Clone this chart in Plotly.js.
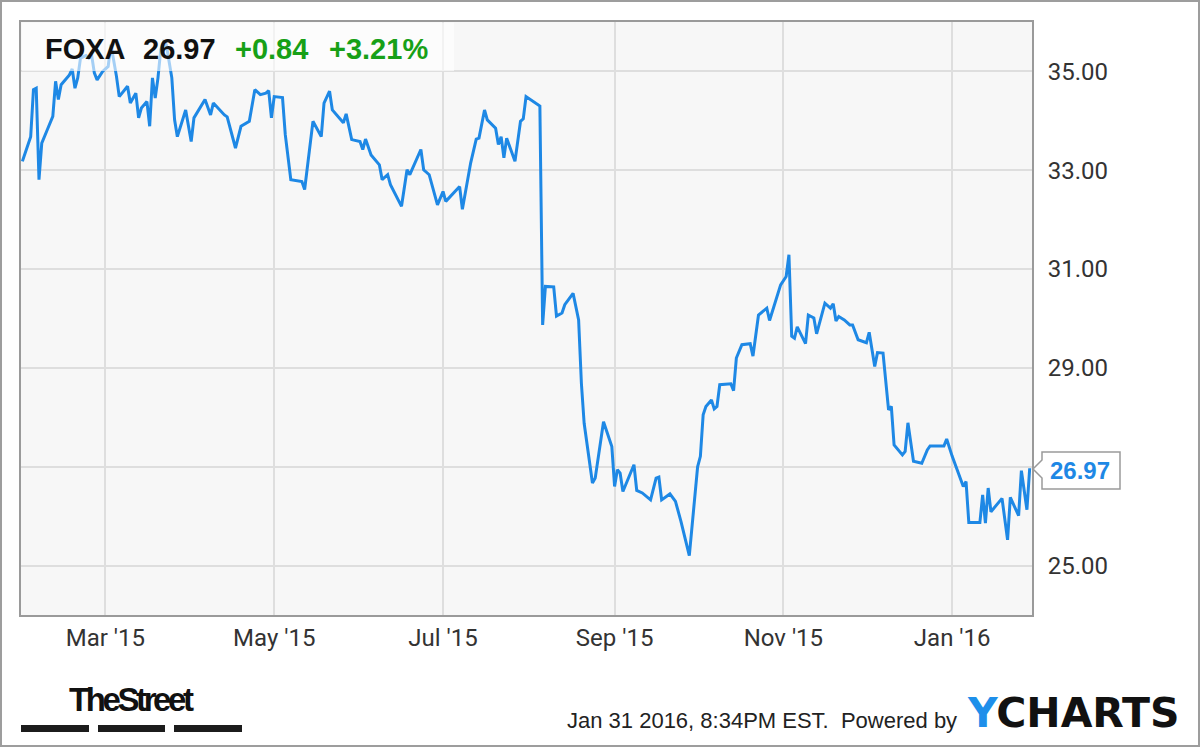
<!DOCTYPE html>
<html>
<head>
<meta charset="utf-8">
<script src="https://cdn.plot.ly/plotly-3.0.1.min.js"></script>
<style>
  html, body { margin: 0; padding: 0; background: #fff; }
  #chart { width: 1200px; height: 747px; }
</style>
</head>
<body>
<div id="chart"></div>
<script>
// ---- data ----
const dates = [
  "2015-01-30","2015-02-02","2015-02-03","2015-02-04","2015-02-05","2015-02-06","2015-02-08","2015-02-10",
  "2015-02-11","2015-02-12","2015-02-13","2015-02-16","2015-02-17","2015-02-18","2015-02-19","2015-02-20",
  "2015-02-22","2015-02-23","2015-02-24","2015-02-25","2015-02-26","2015-02-28","2015-03-02","2015-03-03",
  "2015-03-05","2015-03-06","2015-03-09","2015-03-10","2015-03-12","2015-03-13","2015-03-14","2015-03-16",
  "2015-03-17","2015-03-18","2015-03-19","2015-03-20","2015-03-21","2015-03-22","2015-03-23","2015-03-25",
  "2015-03-26","2015-03-27","2015-03-30","2015-04-01","2015-04-02","2015-04-06","2015-04-08","2015-04-09",
  "2015-04-13","2015-04-14","2015-04-17","2015-04-19","2015-04-22","2015-04-24","2015-04-26","2015-04-28",
  "2015-04-29","2015-04-30","2015-05-01","2015-05-04","2015-05-05","2015-05-07","2015-05-11","2015-05-12",
  "2015-05-15","2015-05-18","2015-05-19","2015-05-21","2015-05-22","2015-05-26","2015-05-27","2015-05-29",
  "2015-06-01","2015-06-02","2015-06-03","2015-06-05","2015-06-08","2015-06-09","2015-06-11","2015-06-12",
  "2015-06-16","2015-06-18","2015-06-19","2015-06-23","2015-06-24","2015-06-26","2015-06-29","2015-07-01",
  "2015-07-02","2015-07-07","2015-07-08","2015-07-11","2015-07-13","2015-07-14","2015-07-16","2015-07-17",
  "2015-07-20","2015-07-21","2015-07-22","2015-07-23","2015-07-24","2015-07-27","2015-07-29","2015-07-30",
  "2015-07-31","2015-08-04","2015-08-05","2015-08-06","2015-08-07","2015-08-10","2015-08-11","2015-08-13",
  "2015-08-14","2015-08-17","2015-08-19","2015-08-20","2015-08-21","2015-08-24","2015-08-25","2015-08-28",
  "2015-08-31","2015-09-01","2015-09-02","2015-09-03","2015-09-04","2015-09-08","2015-09-09","2015-09-11",
  "2015-09-14","2015-09-16","2015-09-17","2015-09-18","2015-09-21","2015-09-23","2015-09-25","2015-09-28",
  "2015-10-01","2015-10-02","2015-10-03","2015-10-04","2015-10-06","2015-10-07","2015-10-08","2015-10-09",
  "2015-10-13","2015-10-14","2015-10-15","2015-10-17","2015-10-20","2015-10-21","2015-10-23","2015-10-26",
  "2015-10-27","2015-10-31","2015-11-02","2015-11-03","2015-11-04","2015-11-05","2015-11-06","2015-11-09",
  "2015-11-10","2015-11-12","2015-11-13","2015-11-16","2015-11-18","2015-11-19","2015-11-20","2015-11-21",
  "2015-11-23","2015-11-25","2015-11-26","2015-11-28","2015-12-01","2015-12-02","2015-12-04","2015-12-05",
  "2015-12-07","2015-12-09","2015-12-10","2015-12-11","2015-12-14","2015-12-15","2015-12-16","2015-12-18",
  "2015-12-21","2015-12-23","2015-12-24","2015-12-29","2015-12-30","2016-01-01","2016-01-05","2016-01-06",
  "2016-01-07","2016-01-11","2016-01-12","2016-01-13","2016-01-14","2016-01-15","2016-01-19","2016-01-21",
  "2016-01-22","2016-01-25","2016-01-26","2016-01-28","2016-01-29"
];
const prices = [
  33.18,33.68,34.63,34.66,32.81,33.55,33.82,34.09,
  34.80,34.43,34.73,34.93,35.05,34.66,34.87,35.27,
  35.32,35.27,35.34,34.97,34.83,35.00,35.10,35.54,
  34.90,34.49,34.70,34.36,34.56,34.06,34.26,34.39,
  33.89,34.87,34.46,34.87,35.44,35.60,35.54,34.87,
  34.02,33.68,34.22,33.58,34.06,34.43,34.12,34.36,
  34.12,34.08,33.45,33.89,33.99,34.63,34.53,34.56,
  34.61,34.06,34.49,34.47,33.72,32.81,32.77,32.61,
  33.99,33.68,34.36,34.60,34.22,33.96,34.14,33.62,
  33.58,33.42,33.63,33.31,33.11,32.81,32.91,32.71,
  32.27,33.01,32.91,33.42,33.01,32.91,32.30,32.57,
  32.37,32.67,32.21,33.15,33.63,33.65,34.22,34.02,
  33.85,33.52,33.68,33.25,33.65,33.18,33.99,34.04,
  34.49,34.35,34.30,29.87,30.65,30.64,30.05,30.11,
  30.28,30.51,29.97,28.69,27.88,26.67,26.77,27.91,
  27.41,26.60,26.94,26.87,26.50,27.04,26.52,26.47,
  26.33,26.77,26.79,26.33,26.45,26.30,25.89,25.20,
  27.00,27.21,28.05,28.22,28.35,28.17,28.22,28.66,
  28.68,28.54,29.20,29.47,29.49,29.24,30.07,30.21,
  29.96,30.68,30.85,31.29,29.64,29.60,29.83,29.49,
  30.07,30.01,29.69,30.31,30.21,30.30,29.95,30.04,
  29.97,29.87,29.87,29.57,29.51,29.72,29.03,29.31,
  29.30,28.15,28.22,27.44,27.24,27.31,27.89,27.11,
  27.07,27.34,27.42,27.42,27.56,27.21,26.60,26.70,
  25.87,25.87,26.43,25.86,26.57,26.09,26.36,25.52,
  26.38,26.01,26.92,26.13,26.97
];
const ticker = "FOXA";
const lastPrice = "26.97";
const change = "+0.84";
const changePct = "+3.21%";
const xTickVals = ["2015-03-01","2015-05-01","2015-07-01","2015-09-01","2015-11-01","2016-01-01"];
const xTickText = ["Mar '15","May '15","Jul '15","Sep '15","Nov '15","Jan '16"];
const yTickVals = [25, 27, 29, 31, 33, 35];
const yTickText = ["25.00", "", "29.00", "31.00", "33.00", "35.00"];
const stamp = "Jan 31 2016, 8:34PM EST.  Powered by";

// ---- layout helpers (pixel -> paper) ----
const W = 1200, H = 747, ML = 21, MR = 168, MT = 22, MB = 132;
const PW = W - ML - MR, PH = H - MT - MB;
const X = px => (px - ML) / PW;
const Y = py => (H - MB - py) / PH;

const lineBlue = "#1e88e5";
const green = "#17a017";

const trace = {
  x: dates, y: prices, type: "scatter", mode: "lines",
  line: { color: lineBlue, width: 3, shape: "linear" },
  hoverinfo: "skip"
};

const pointerPath =
  "M " + X(1042) + "," + Y(452) + " L " + X(1120) + "," + Y(452) +
  " L " + X(1120) + "," + Y(489) + " L " + X(1042) + "," + Y(489) +
  " L " + X(1042) + "," + Y(478) + " L " + X(1033) + "," + Y(469) +
  " L " + X(1042) + "," + Y(460) + " Z";

const shapes = [
  // header translucent box
  { type: "rect", xref: "paper", yref: "paper", layer: "above",
    x0: X(22), x1: X(454), y0: Y(71), y1: Y(22.5),
    fillcolor: "rgba(255,255,255,0.6)", line: { width: 0 } },
  // last value pointer box
  { type: "path", xref: "paper", yref: "paper", layer: "above",
    path: pointerPath, fillcolor: "#ffffff", line: { color: "#9a9a9a", width: 1.5 } },
  // TheStreet bars
  { type: "rect", xref: "paper", yref: "paper", x0: X(21), x1: X(89), y0: Y(732), y1: Y(725),
    fillcolor: "#1c1c1c", line: { width: 0 } },
  { type: "rect", xref: "paper", yref: "paper", x0: X(98), x1: X(165), y0: Y(732), y1: Y(725),
    fillcolor: "#1c1c1c", line: { width: 0 } },
  { type: "rect", xref: "paper", yref: "paper", x0: X(174), x1: X(242), y0: Y(732), y1: Y(725),
    fillcolor: "#1c1c1c", line: { width: 0 } },
  // outer frame
  { type: "rect", xref: "paper", yref: "paper", x0: X(1), x1: X(1199), y0: Y(746), y1: Y(1),
    fillcolor: "rgba(0,0,0,0)", line: { color: "#9d9d9d", width: 2 } }
];

const hdrFont = (c) => ({ family: "Liberation Sans, Arial, sans-serif", size: 29, color: c, weight: 700 });

const annotations = [
  { xref: "paper", yref: "paper", x: X(43), y: Y(49), xanchor: "left", yanchor: "middle",
    text: ticker, showarrow: false, font: hdrFont("#111111") },
  { xref: "paper", yref: "paper", x: X(141), y: Y(49), xanchor: "left", yanchor: "middle",
    text: lastPrice, showarrow: false, font: hdrFont("#111111") },
  { xref: "paper", yref: "paper", x: X(233), y: Y(49), xanchor: "left", yanchor: "middle",
    text: change, showarrow: false, font: hdrFont(green) },
  { xref: "paper", yref: "paper", x: X(327), y: Y(49), xanchor: "left", yanchor: "middle",
    text: changePct, showarrow: false, font: hdrFont(green) },
  { xref: "paper", yref: "paper", x: X(1080), y: Y(470.5), xanchor: "center", yanchor: "middle",
    text: lastPrice, showarrow: false,
    font: { family: "Liberation Sans, Arial, sans-serif", size: 24, color: lineBlue, weight: 700 } },
  { xref: "paper", yref: "paper", x: X(131), y: Y(699), xanchor: "center", yanchor: "middle",
    text: '<span style="letter-spacing:-3.4px">TheStreet</span>', showarrow: false,
    font: { family: "Liberation Sans, Arial, sans-serif", size: 33, color: "#111111", weight: 700 } },
  { xref: "paper", yref: "paper", x: X(959), y: Y(720), xanchor: "right", yanchor: "middle",
    text: stamp, showarrow: false,
    font: { family: "Liberation Sans, Arial, sans-serif", size: 22, color: "#222222" } },
  { xref: "paper", yref: "paper", x: X(965), y: Y(713), xanchor: "left", yanchor: "middle",
    text: '<span style="color:#1e8fea">Y</span>CHARTS', showarrow: false,
    font: { family: "DejaVu Sans, sans-serif", size: 41, color: "#111111", weight: 700 } }
];

const layout = {
  width: W, height: H,
  margin: { l: ML, r: MR, t: MT, b: MB, pad: 0 },
  paper_bgcolor: "#ffffff",
  plot_bgcolor: "#f7f7f7",
  showlegend: false,
  xaxis: {
    type: "date",
    range: ["2015-01-29 12:00", "2016-01-29 20:00"],
    tickvals: xTickVals, ticktext: xTickText,
    showgrid: true, gridcolor: "#dedede", gridwidth: 2,
    showline: true, mirror: true, linecolor: "#9a9a9a", linewidth: 2,
    ticks: "", ticklabelstandoff: 0,
    tickfont: { family: "Roboto, sans-serif", size: 24, color: "#333333" },
    zeroline: false, fixedrange: true
  },
  yaxis: {
    side: "right",
    range: [24, 36],
    tickvals: yTickVals, ticktext: yTickText,
    showgrid: true, gridcolor: "#dedede", gridwidth: 2,
    showline: true, mirror: true, linecolor: "#9a9a9a", linewidth: 2,
    ticks: "", ticklabelstandoff: 9,
    tickfont: { family: "Roboto, sans-serif", size: 24, color: "#333333" },
    zeroline: false, fixedrange: true
  },
  shapes: shapes,
  annotations: annotations
};

Plotly.newPlot("chart", [trace], layout, { displayModeBar: false, staticPlot: true });
</script>
</body>
</html>
